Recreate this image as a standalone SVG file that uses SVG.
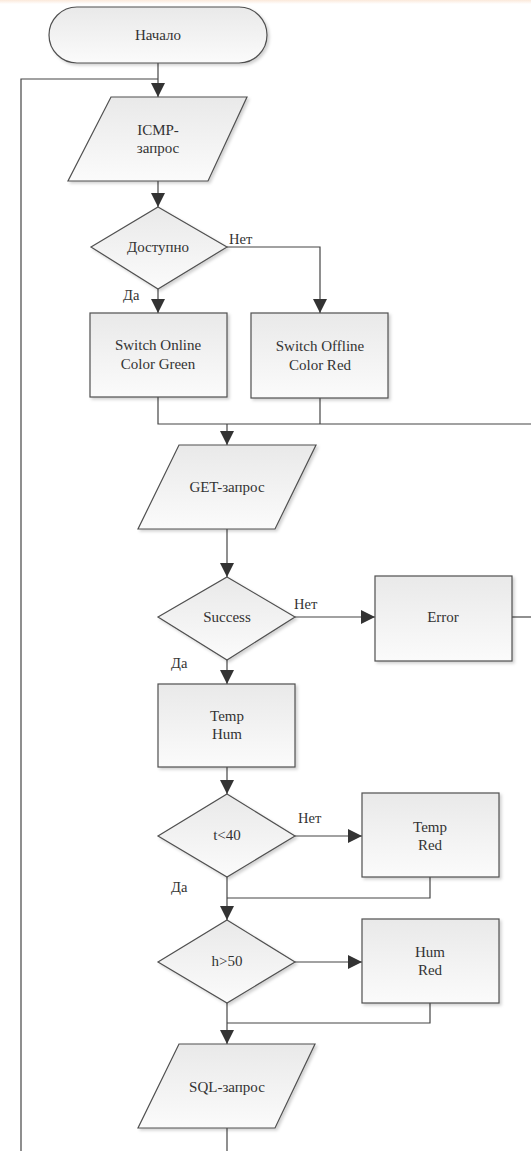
<svg xmlns="http://www.w3.org/2000/svg" width="531" height="1151" viewBox="0 0 531 1151">
<defs>
<linearGradient id="fillg" x1="0" y1="0" x2="0" y2="1">
<stop offset="0" stop-color="#e9e9e9"/>
<stop offset="1" stop-color="#fbfbfb"/>
</linearGradient>
<linearGradient id="topg" x1="0" y1="0" x2="0" y2="1">
<stop offset="0" stop-color="#fbe9da"/>
<stop offset="1" stop-color="#ffffff"/>
</linearGradient>
<filter id="sh" x="-10%" y="-10%" width="130%" height="130%">
<feDropShadow dx="2" dy="2" stdDeviation="1.5" flood-color="#000" flood-opacity="0.18"/>
</filter>
<marker id="arr" markerUnits="userSpaceOnUse" markerWidth="14" markerHeight="14" viewBox="0 0 12 12" refX="12" refY="6" orient="auto">
<path d="M0,0 L12,6 L0,12 z" fill="#333333"/>
</marker>
</defs>
<style>
.shape{fill:url(#fillg);stroke:#505050;stroke-width:1.2;filter:url(#sh)}
text{font-family:'Liberation Serif','DejaVu Serif',serif;fill:#333}
.t{font-size:15px;text-anchor:middle}
.lbl{font-size:14.5px}
.c{fill:none;stroke:#454545;stroke-width:1.2}
.ca{fill:none;stroke:#454545;stroke-width:1.2;marker-end:url(#arr)}
</style>
<rect x="0" y="0" width="531" height="1151" fill="#ffffff"/>
<rect x="0" y="0" width="531" height="4" fill="url(#topg)"/>

<g id="connectors">
<path class="c" d="M21,1151 V79 H158"/>
<path class="ca" d="M158,63 V97"/>
<path class="ca" d="M158,181 V207"/>
<path class="ca" d="M227,247 H320 V313"/>
<path class="ca" d="M158,289 V313"/>
<path class="c" d="M158,397 V424 H531"/>
<path class="c" d="M320,398 V424"/>
<path class="ca" d="M227,424 V445"/>
<path class="ca" d="M227,529 V577"/>
<path class="ca" d="M295,617 H375"/>
<path class="c" d="M512,617 H531"/>
<path class="ca" d="M227,660 V684"/>
<path class="ca" d="M227,767 V794"/>
<path class="ca" d="M295,836 H362"/>
<path class="ca" d="M227,877 V920"/>
<path class="c" d="M430,877 V898 H227"/>
<path class="ca" d="M295,962 H362"/>
<path class="ca" d="M227,1003 V1044"/>
<path class="c" d="M430,1003 V1023 H227"/>
<path class="c" d="M227,1128 V1151"/>
<text class="lbl" font-family="Liberation Serif, DejaVu Serif, serif" x="229" y="244">Нет</text>
<text class="lbl" font-family="Liberation Serif, DejaVu Serif, serif" x="123" y="300">Да</text>
<text class="lbl" font-family="Liberation Serif, DejaVu Serif, serif" x="294" y="609">Нет</text>
<text class="lbl" font-family="Liberation Serif, DejaVu Serif, serif" x="171" y="668">Да</text>
<text class="lbl" font-family="Liberation Serif, DejaVu Serif, serif" x="298" y="823">Нет</text>
<text class="lbl" font-family="Liberation Serif, DejaVu Serif, serif" x="171" y="892">Да</text>
</g>

<g id="start">
<rect class="shape" x="49" y="7" width="218" height="56" rx="28" ry="28"/>
<text class="t" x="158" y="40">Начало</text>
</g>

<g id="icmp">
<polygon class="shape" points="111,97 247,97 208,181 68,181"/>
<text class="t" x="158" y="135">ICMP-</text>
<text class="t" x="158" y="153">запрос</text>
</g>

<g id="available">
<polygon class="shape" points="158,207 227,247 158,289 91,247"/>
<text class="t" x="158" y="252">Доступно</text>
</g>

<g id="online">
<rect class="shape" x="90" y="313" width="137" height="84"/>
<text class="t" x="158" y="350">Switch Online</text>
<text class="t" x="158" y="369">Color Green</text>
</g>

<g id="offline">
<rect class="shape" x="251" y="313" width="137" height="85"/>
<text class="t" x="320" y="351">Switch Offline</text>
<text class="t" x="320" y="370">Color Red</text>
</g>

<g id="get">
<polygon class="shape" points="179,445 316,445 275,529 138,529"/>
<text class="t" x="227" y="492">GET-запрос</text>
</g>

<g id="success">
<polygon class="shape" points="227,577 295,617 227,660 158,617"/>
<text class="t" x="227" y="622">Success</text>
</g>

<g id="error">
<rect class="shape" x="375" y="576" width="137" height="85"/>
<text class="t" x="443" y="622">Error</text>
</g>

<g id="temphum">
<rect class="shape" x="158" y="684" width="137" height="83"/>
<text class="t" x="227" y="721">Temp</text>
<text class="t" x="227" y="739">Hum</text>
</g>

<g id="t40">
<polygon class="shape" points="227,794 295,836 227,877 158,836"/>
<text class="t" x="227" y="840">t&lt;40</text>
</g>

<g id="tempred">
<rect class="shape" x="362" y="793" width="137" height="84"/>
<text class="t" x="430" y="832">Temp</text>
<text class="t" x="430" y="850">Red</text>
</g>

<g id="h50">
<polygon class="shape" points="227,920 295,962 227,1003 158,962"/>
<text class="t" x="227" y="966">h&gt;50</text>
</g>

<g id="humred">
<rect class="shape" x="362" y="919" width="137" height="84"/>
<text class="t" x="430" y="957">Hum</text>
<text class="t" x="430" y="975">Red</text>
</g>

<g id="sql">
<polygon class="shape" points="179,1044 315,1044 275,1128 138,1128"/>
<text class="t" x="227" y="1092">SQL-запрос</text>
</g>
</svg>
